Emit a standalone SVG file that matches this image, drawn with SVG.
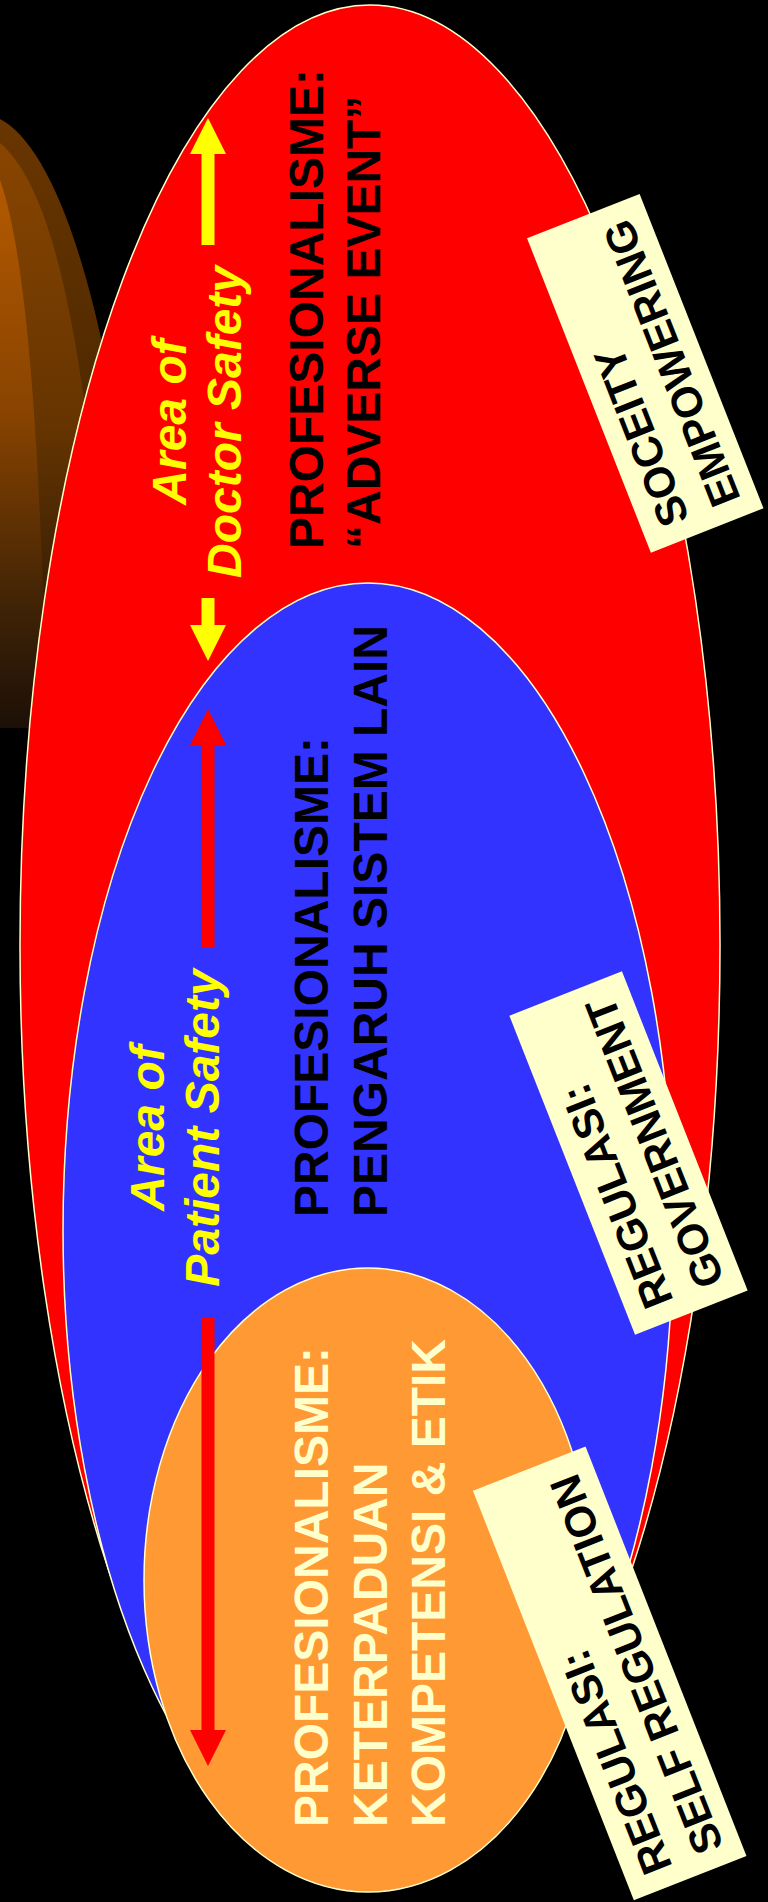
<svg xmlns="http://www.w3.org/2000/svg" width="768" height="1902" viewBox="0 0 768 1902">
<defs>
<linearGradient id="gIn" x1="0" y1="150" x2="0" y2="728" gradientUnits="userSpaceOnUse">
<stop offset="0" stop-color="#b85c00"/><stop offset="0.45" stop-color="#8a4400"/><stop offset="0.8" stop-color="#3e2206"/><stop offset="1" stop-color="#1c1006"/>
</linearGradient>
<linearGradient id="gMid" x1="0" y1="130" x2="0" y2="728" gradientUnits="userSpaceOnUse">
<stop offset="0" stop-color="#8a4600"/><stop offset="0.5" stop-color="#653400"/><stop offset="0.85" stop-color="#2e1a06"/><stop offset="1" stop-color="#1a0e04"/>
</linearGradient>
<linearGradient id="gOut" x1="0" y1="110" x2="0" y2="728" gradientUnits="userSpaceOnUse">
<stop offset="0" stop-color="#6a3600"/><stop offset="0.5" stop-color="#4e2900"/><stop offset="0.85" stop-color="#24150a"/><stop offset="1" stop-color="#140c04"/>
</linearGradient>
</defs>
<style>
.main{font-family:"Liberation Sans",Arial,sans-serif;font-weight:bold;font-size:48px;fill:#000}
.ital{font-style:italic;fill:#ffff00;text-anchor:middle}
.pale{fill:#ffffcc}
.box{fill:#ffffcc}
.btxt{font-family:"Liberation Sans",Arial,sans-serif;font-weight:bold;font-size:43px;fill:#000}
.ell{stroke:#ffffcc;stroke-width:1.5}
</style>
<rect width="768" height="1902" fill="#000"/>
<g id="backdrop">
<path d="M0,119 C60,150 125,330 150,728 L0,728 Z" fill="url(#gOut)"/>
<path d="M0,143 C50,185 92,330 112,728 L0,728 Z" fill="url(#gMid)"/>
<path d="M0,180 C25,250 40,420 47,728 L0,728 Z" fill="url(#gIn)"/>
</g>
<g id="area-society">
<ellipse cx="370" cy="945" rx="350" ry="940" fill="#ff0000" class="ell"/>
</g>
<g id="area-government">
<ellipse cx="368" cy="1230" rx="305" ry="647" fill="#3333ff" class="ell"/>
</g>
<g id="area-self">
<ellipse cx="368" cy="1580" rx="224" ry="312" fill="#ff9933" class="ell"/>
</g>
<g id="arrows">
<polygon points="201.5,245 214.5,245 214.5,154 226,154 208,118 190,154 201.5,154" fill="#ffff00"/>
<polygon points="201.5,598 214.5,598 214.5,625 226,625 208,661 190,625 201.5,625" fill="#ffff00"/>
<polygon points="201.5,948 214.5,948 214.5,745 226,745 208,709 190,745 201.5,745" fill="#ff0000"/>
<polygon points="201.5,1318 214.5,1318 214.5,1730 226,1730 208,1766 190,1730 201.5,1730" fill="#ff0000"/>
</g>
<g id="label-doctor-safety" class="main ital">
<text transform="translate(186,422) rotate(-90)">Area of</text>
<text transform="translate(241,422) rotate(-90)">Doctor Safety</text>
</g>
<g id="label-patient-safety" class="main ital">
<text transform="translate(164,1128) rotate(-90)">Area of</text>
<text transform="translate(219,1128) rotate(-90)">Patient Safety</text>
</g>
<g id="text-adverse">
<text class="main" transform="translate(323,549) rotate(-90)"><tspan x="0" y="0">PROFESIONALISME:</tspan><tspan x="0" y="57">“ADVERSE EVENT”</tspan></text>
</g>
<g id="text-sistem">
<text class="main" transform="translate(328,1217) rotate(-90)"><tspan x="0" y="0">PROFESIONALISME:</tspan><tspan x="0" y="59">PENGARUH SISTEM LAIN</tspan></text>
</g>
<g id="text-kompetensi">
<text class="main pale" transform="translate(328,1827) rotate(-90)"><tspan x="0" y="0">PROFESIONALISME:</tspan><tspan x="0" y="59">KETERPADUAN</tspan><tspan x="0" y="117">KOMPETENSI &amp; ETIK</tspan></text>
</g>
<g id="box-society" transform="translate(645.25,373.3) rotate(-111.5)">
<rect x="-169" y="-60.5" width="338" height="121" class="box"/>
<text class="btxt" x="-152" y="-12">SOCEITY</text>
<text class="btxt" x="-152" y="43">EMPOWERING</text>
</g>
<g id="box-government" transform="translate(628.5,1153.1) rotate(-111.5)">
<rect x="-171.5" y="-60.5" width="343" height="121" class="box"/>
<text class="btxt" x="-154" y="-12">REGULASI:</text>
<text class="btxt" x="-154" y="43">GOVERNMENT</text>
</g>
<g id="box-self" transform="translate(609.7,1673.4) rotate(-111.45)">
<rect x="-220" y="-60.5" width="440" height="121" class="box"/>
<text class="btxt" x="-203" y="-12">REGULASI:</text>
<text class="btxt" x="-203" y="43">SELF REGULATION</text>
</g>
</svg>
